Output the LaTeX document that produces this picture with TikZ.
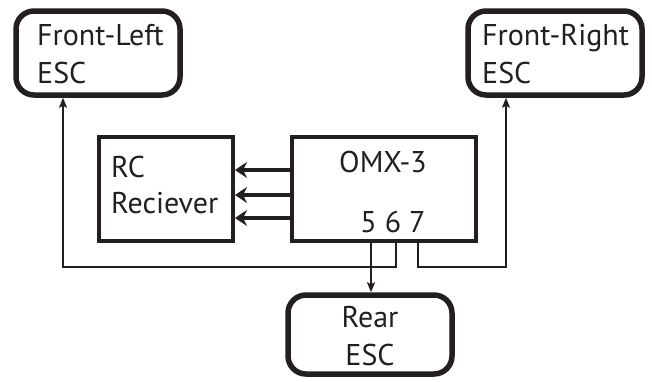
\documentclass[tikz,border=0pt]{standalone}
\usepackage{fontspec}
\setmainfont{PT Sans}
\usetikzlibrary{arrows.meta}
\definecolor{ink}{HTML}{231F20}
\begin{document}
\begin{tikzpicture}[x=1pt,y=-1pt,
  esc/.style={draw=ink,line width=5.5pt,rounded corners=18pt,inner sep=0pt,rectangle},
  blk/.style={draw=ink,line width=4pt,inner sep=0pt,rectangle},
  lbl/.style={anchor=base west,inner sep=0pt,text=ink,font=\fontsize{30}{36}\selectfont},
  lblc/.style={anchor=base,inner sep=0pt,text=ink,font=\fontsize{30}{36}\selectfont},
  wire/.style={draw=ink,line width=1.6pt},
  warrow/.style={wire,-{Stealth[length=10pt,width=8pt,inset=2pt]}},
  barrow/.style={draw=ink,line width=3.8pt,-{Stealth[length=12pt,width=16pt,inset=4pt]}}]
\useasboundingbox (0,0) rectangle (652,381);
% boxes
\node[esc,minimum width=164pt,minimum height=84pt] (fl) at (98,53) {};
\node[esc,minimum width=174pt,minimum height=84pt] (fr) at (555,53) {};
\node[blk,minimum width=134pt,minimum height=104pt] (rc) at (166,189) {};
\node[blk,minimum width=184pt,minimum height=104pt] (omx) at (384,189) {};
\node[esc,minimum width=164pt,minimum height=79pt] (rear) at (370,334.5) {};
% labels
\node[lbl] (t1) at (37,45) {Front-Left};
\node[lbl] (t2) at (37,83) {ESC};
\node[lbl] (t3) at (482,45) {Front-Right};
\node[lbl] (t4) at (482,83) {ESC};
\node[lbl] (t5) at (111,177) {RC};
\node[lbl] (t6) at (111,213) {Reciever};
\node[lblc] (t7) at (383,172) {OMX-3};
\node[lblc] (t8) at (393,232) {5 6 7};
\node[lblc] (t9) at (370,327) {Rear};
\node[lblc] (t10) at (370,365) {ESC};
% RC arrows
\draw[barrow] (omx.west |- 0,170) -- (rc.east |- 0,170);
\draw[barrow] (omx.west |- 0,195) -- (rc.east |- 0,195);
\draw[barrow] (omx.west |- 0,218) -- (rc.east |- 0,218);
% pin wires
\coordinate (p5) at (371,243);
\coordinate (p6) at (396,243);
\coordinate (p7) at (418,243);
\coordinate (jl) at (63,267);
\coordinate (jr) at (506,267);
\draw[warrow] (p5) -- (p5 |- rear.north);
\draw[warrow] (p6) |- (jl) -- (jl |- fl.south);
\draw[warrow] (p7) |- (jr) -- (jr |- fr.south);
\end{tikzpicture}
\end{document}
